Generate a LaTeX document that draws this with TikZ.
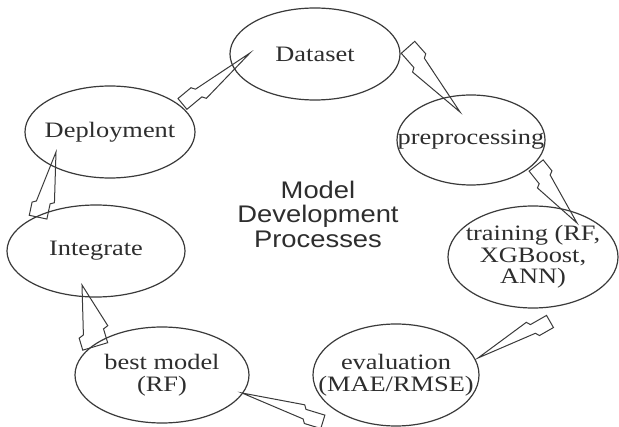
\documentclass[tikz,border=0pt]{standalone}
\usepackage{fontspec}
\setmainfont{Liberation Serif}[FakeStretch=1.2]
\newfontfamily\centersans{Liberation Sans}[FakeStretch=1.14]
\usetikzlibrary{shapes.geometric,calc}
\definecolor{linec}{HTML}{3A3A3A}
\definecolor{textc}{HTML}{2E2E2E}
\tikzset{
  ell/.style={ellipse, draw=linec, line width=1.2pt, inner sep=0pt},
  lbl/.style={font=\fontsize{22}{21.5}\selectfont, text=textc, align=center, inner sep=0pt},
  jag/.style={draw=linec, line width=1pt, line join=miter},
}
% #1 base, #2 tip, #3 left width of base part, #4 half width at the step, #5 right width of base part
\newcommand\jagarrow[5]{%
  \draw[jag] ($(#1)!#3pt!90:(#2)$) -- ($(#1)!0.2!(#2)!#3pt!90:(#2)$)
    -- ($(#1)!0.23!(#2)!#4pt!90:(#2)$) -- (#2)
    -- ($(#1)!0.26!(#2)!#4pt!-90:(#2)$) -- ($(#1)!0.23!(#2)!#5pt!-90:(#2)$)
    -- ($(#1)!#5pt!-90:(#2)$) -- cycle;}
\begin{document}
\begin{tikzpicture}[x=1pt,y=-1pt]
\fill[white] (0,0) rectangle (619,427);
\useasboundingbox (0,0) rectangle (619,427);

\node[ell, minimum width=170pt, minimum height=92pt, label={[lbl]center:Dataset}] (data) at (315,54) {};
\node[ell, minimum width=148pt, minimum height=90pt, label={[lbl]center:preprocessing}] (pre) at (471,140) {};
\node[ell, minimum width=170pt, minimum height=102pt, label={[lbl]center:training (RF,\\XGBoost,\\ANN)}] (train) at (533,257) {};
\node[ell, minimum width=166pt, minimum height=102pt, label={[lbl]center:evaluation\\(MAE/RMSE)}] (eval) at (396,375) {};
\node[ell, minimum width=174pt, minimum height=96pt, label={[lbl]center:best model\\(RF)}] (best) at (162,375) {};
\node[ell, minimum width=178pt, minimum height=92pt, label={[lbl]center:Integrate}] (integ) at (96,251) {};
\node[ell, minimum width=170pt, minimum height=92pt, label={[lbl]center:Deployment}] (dep) at (110,132) {};

\node[font=\centersans\fontsize{24}{24.5}\selectfont, text=textc, align=center] (title) at (318,214) {Model\\Development\\Processes};

\coordinate (b1) at ($(dep.center)+(75,-25)$);   \coordinate (t1) at ($(data.center)+(-65,-1)$);
\coordinate (b2) at ($(data.center)+(90,-4)$);   \coordinate (t2) at ($(pre.center)+(-11,-28)$);
\coordinate (b3) at ($(pre.center)+(62,28)$);    \coordinate (t3) at ($(train.center)+(44,-34)$);
\coordinate (b4) at ($(train.center)+(15,61)$);  \coordinate (t4) at ($(eval.center)+(82,-17)$);
\coordinate (b5) at ($(eval.center)+(-72,43)$);  \coordinate (t5) at ($(best.center)+(80,18)$);
\coordinate (b6) at ($(best.center)+(-62,-30)$); \coordinate (t6) at ($(integ.center)+(-14,34)$);
\coordinate (b7) at ($(integ.center)+(-54,-33)$);\coordinate (t7) at ($(dep.center)+(-54,20)$);

\jagarrow{b1}{t1}{11}{7}{3}
\jagarrow{b2}{t2}{13}{9}{5}
\jagarrow{b3}{t3}{13}{9}{5}
\jagarrow{b4}{t4}{11}{7}{3}
\jagarrow{b5}{t5}{11}{7}{3}
\jagarrow{b6}{t6}{18}{13}{8}
\jagarrow{b7}{t7}{13}{9}{5}
\end{tikzpicture}
\end{document}
